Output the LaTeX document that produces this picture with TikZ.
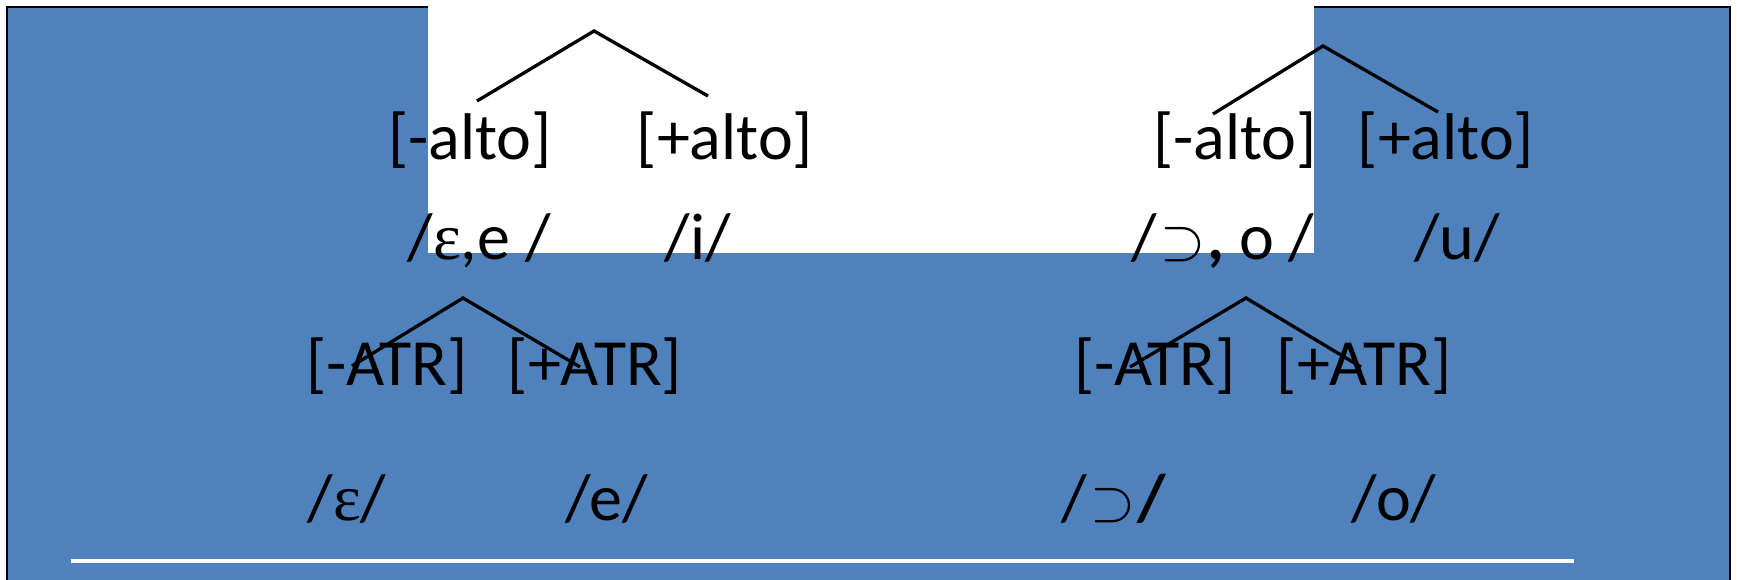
\documentclass[tikz,border=0pt]{standalone}
\usepackage{graphicx}
\usepackage{fontspec}
\setmainfont{Carlito}
\newfontfamily\serifeps{Liberation Serif}
\definecolor{officeblue}{HTML}{4F81BD}
\newcommand{\bigsup}{\kern3pt\resizebox{45pt}{32pt}{$\supset$}\kern2pt}
\begin{document}
\begin{tikzpicture}[x=1pt,y=-1pt,
  lbl/.style={anchor=base,inner sep=0pt,font=\fontsize{66}{72}\selectfont},
  branch/.style={draw=black,line width=3.3pt}]
\useasboundingbox (0,0) rectangle (1737,580);
\fill[white] (0,0) rectangle (1737,580);
\draw[fill=officeblue,draw=black,line width=2pt] (7,7) rectangle (1730,600);
\fill[white] (428,-2) rectangle (1314,253);
\draw[white,line width=4pt] (71,560.5) -- (1574,560.5);
% row 1
\node[lbl] (la1) at (470,160) {[-alto]};
\node[lbl] (la2) at (725,160) {[+alto]};
\node[lbl] (ra1) at (1235,160) {[-alto]};
\node[lbl] (ra2) at (1446,160) {[+alto]};
% row 2
\node[lbl] (lv) at (479,259) {/{\serifeps ε},e /};
\node[lbl] (iv) at (698,259) {/i/};
\node[lbl] (rv) at (1223,259) {/\bigsup\textbf{,} o /};
\node[lbl] (uv) at (1457,259) {/u/};
% row 3
\node[lbl] (lt1) at (387,385) {[-ATR]};
\node[lbl] (lt2) at (595,385) {[+ATR]};
\node[lbl] (rt1) at (1155,385) {[-ATR]};
\node[lbl] (rt2) at (1364,385) {[+ATR]};
% row 4
\node[lbl] (ev) at (347,520) {/{\serifeps ε}/};
\node[lbl] (ee) at (607,520) {/e/};
\node[lbl] (ov) at (1114,520) {/\bigsup\textbf{/}};
\node[lbl] (oo) at (1394,520) {/o/};
% tree coordinates
\coordinate (ltop) at (594,31);
\coordinate (ltl) at (477,101);
\coordinate (ltr) at (708,96);
\coordinate (rtop) at (1323,46);
\coordinate (rtl) at (1213,114);
\coordinate (rtr) at (1438,112);
\coordinate (latop) at (463,298);
\coordinate (latl) at (352,366);
\coordinate (latr) at (580,367);
\coordinate (ratop) at (1246,298);
\coordinate (ratl) at (1130,367);
\coordinate (ratr) at (1361,367);
\draw[branch] (ltl) -- (ltop) -- (ltr);
\draw[branch] (rtl) -- (rtop) -- (rtr);
\draw[branch] (latl) -- (latop) -- (latr);
\draw[branch] (ratl) -- (ratop) -- (ratr);
\end{tikzpicture}
\end{document}
